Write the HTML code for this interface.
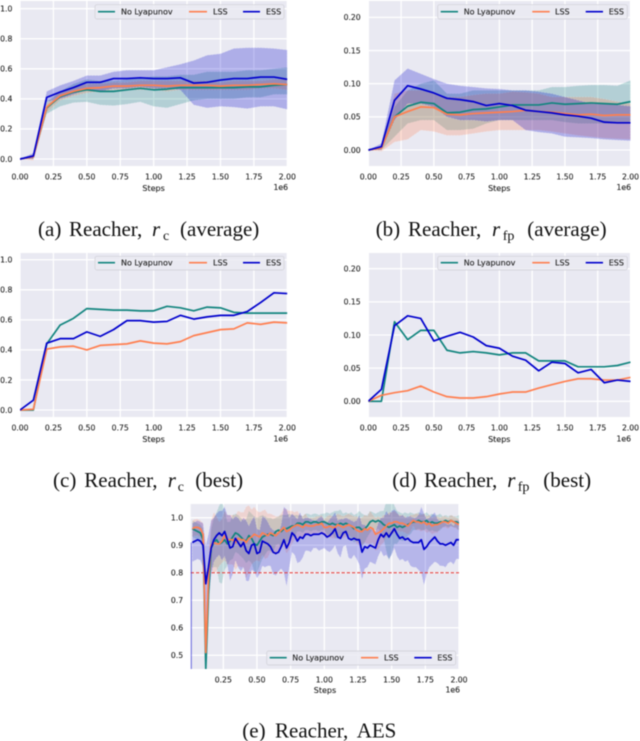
<!DOCTYPE html>
<html>
<head>
<meta charset="utf-8">
<title>Reacher results</title>
<style>
html,body{margin:0;padding:0;background:#fff;width:640px;height:741px;overflow:hidden}
svg{display:block;filter:blur(0.45px)}
.tick{font:7.7px "DejaVu Sans",sans-serif;fill:#222;stroke:#222;stroke-width:.12}
.axl{font:8px "DejaVu Sans",sans-serif;fill:#222;stroke:#222;stroke-width:.12}
.leg{font:8px "DejaVu Sans",sans-serif;fill:#222;stroke:#222;stroke-width:.12}
.cap{font:21px "Liberation Serif",serif;fill:#111}
.capi{font:italic 21px "Liberation Serif",serif;fill:#111}
.sub{font:14px "Liberation Serif",serif;fill:#111}
.lbox{fill:#eaeaf2;fill-opacity:.85;stroke:#cfcfd6;stroke-width:.7}
.teal{stroke:#13857f;stroke-width:1.7;fill:none}
.orange{stroke:#ff7f50;stroke-width:1.7;fill:none}
.blue{stroke:#0000cd;stroke-width:1.7;fill:none}
</style>
</head>
<body>
<svg id="fig" xmlns="http://www.w3.org/2000/svg" width="640" height="741" viewBox="0 0 640 741">
  <rect width="640" height="741" fill="#fff"/>

  <g id="plot-a"></g>
  <g>
    <text class="axl" x="153.6" y="191" text-anchor="middle">Steps</text>
    <text class="tick" x="288" y="190" text-anchor="end">1e6</text>
    <g>
      <rect class="lbox" x="95" y="4.7" width="189" height="14.3" rx="2"/>
      <line class="teal" x1="98" x2="115" y1="11.7" y2="11.7"/>
      <text class="leg" x="121" y="14.5">No Lyapunov</text>
      <line class="orange" x1="189" x2="207" y1="11.7" y2="11.7"/>
      <text class="leg" x="213" y="14.5">LSS</text>
      <line class="blue" x1="243" x2="260" y1="11.7" y2="11.7"/>
      <text class="leg" x="266" y="14.5">ESS</text>
    </g>
    <text y="236"><tspan class="cap" x="38">(a)</tspan><tspan class="cap" x="69">Reacher,</tspan><tspan class="capi" x="152">r</tspan><tspan class="sub" x="163" y="240">c</tspan><tspan class="cap" x="180" y="236">(average)</tspan></text>
  </g>

  <g id="plot-b"></g>
  <g>
    <text class="axl" x="499.3" y="191" text-anchor="middle">Steps</text>
    <text class="tick" x="631" y="190" text-anchor="end">1e6</text>
    <g>
      <rect class="lbox" x="437.7" y="4.7" width="189.6" height="14.3" rx="2"/>
      <line class="teal" x1="440.7" x2="458" y1="11.7" y2="11.7"/>
      <text class="leg" x="463.7" y="14.5">No Lyapunov</text>
      <line class="orange" x1="532.3" x2="549.7" y1="11.7" y2="11.7"/>
      <text class="leg" x="555" y="14.5">LSS</text>
      <line class="blue" x1="585.7" x2="603" y1="11.7" y2="11.7"/>
      <text class="leg" x="608.7" y="14.5">ESS</text>
    </g>
    <text y="236"><tspan class="cap" x="375.7">(b)</tspan><tspan class="cap" x="408">Reacher,</tspan><tspan class="capi" x="492">r</tspan><tspan class="sub" x="502.7" y="240">fp</tspan><tspan class="cap" x="527.3" y="236">(average)</tspan></text>
  </g>

  <g id="plot-c"></g>
  <g>
    <text class="axl" x="153.6" y="442" text-anchor="middle">Steps</text>
    <text class="tick" x="288" y="441.4" text-anchor="end">1e6</text>
    <g>
      <rect class="lbox" x="95" y="256.3" width="189" height="13.7" rx="2"/>
      <line class="teal" x1="98" x2="115" y1="262.7" y2="262.7"/>
      <text class="leg" x="121" y="265.5">No Lyapunov</text>
      <line class="orange" x1="189" x2="207" y1="262.7" y2="262.7"/>
      <text class="leg" x="213" y="265.5">LSS</text>
      <line class="blue" x1="243" x2="260" y1="262.7" y2="262.7"/>
      <text class="leg" x="266" y="265.5">ESS</text>
    </g>
    <text y="487"><tspan class="cap" x="53">(c)</tspan><tspan class="cap" x="84.3">Reacher,</tspan><tspan class="capi" x="167.7">r</tspan><tspan class="sub" x="177.7" y="491">c</tspan><tspan class="cap" x="195.3" y="487">(best)</tspan></text>
  </g>

  <g id="plot-d"></g>
  <g>
    <text class="axl" x="499.3" y="442" text-anchor="middle">Steps</text>
    <text class="tick" x="631" y="441.4" text-anchor="end">1e6</text>
    <g>
      <rect class="lbox" x="437.7" y="256.3" width="189.6" height="13.7" rx="2"/>
      <line class="teal" x1="440.7" x2="458" y1="262.7" y2="262.7"/>
      <text class="leg" x="463.7" y="265.5">No Lyapunov</text>
      <line class="orange" x1="532.3" x2="549.7" y1="262.7" y2="262.7"/>
      <text class="leg" x="555" y="265.5">LSS</text>
      <line class="blue" x1="585.7" x2="603" y1="262.7" y2="262.7"/>
      <text class="leg" x="608.7" y="265.5">ESS</text>
    </g>
    <text y="487"><tspan class="cap" x="392.3">(d)</tspan><tspan class="cap" x="424">Reacher,</tspan><tspan class="capi" x="507.3">r</tspan><tspan class="sub" x="517.7" y="491">fp</tspan><tspan class="cap" x="543.3" y="487">(best)</tspan></text>
  </g>

  <g id="plot-e"></g>
  <g>
    <text class="axl" x="325" y="693" text-anchor="middle">Steps</text>
    <text class="tick" x="460" y="692.7" text-anchor="end">1e6</text>
    <g>
      <rect class="lbox" x="266.7" y="651" width="189" height="14" rx="2"/>
      <line class="teal" x1="269.7" x2="286.7" y1="657.7" y2="657.7"/>
      <text class="leg" x="292.3" y="660.5">No Lyapunov</text>
      <line class="orange" x1="361" x2="378.3" y1="657.7" y2="657.7"/>
      <text class="leg" x="384" y="660.5">LSS</text>
      <line class="blue" x1="414.3" x2="431.7" y1="657.7" y2="657.7"/>
      <text class="leg" x="437.3" y="660.5">ESS</text>
    </g>
    <text y="737.5"><tspan class="cap" x="242.3">(e)</tspan><tspan class="cap" x="275">Reacher,</tspan><tspan class="cap" x="356.7">AES</tspan></text>
  </g>
</svg>

<script>
/* ---------- shared tick labels and categories ---------- */
const stepsCoarse = [0,0.1,0.2,0.3,0.4,0.5,0.6,0.7,0.8,0.9,1.0,1.1,1.2,1.3,1.4,1.5,1.6,1.7,1.8,1.9,2.0];
const xTicksFull = [0,0.25,0.5,0.75,1,1.25,1.5,1.75,2];
const xTickLabelsFull = ["0.00","0.25","0.50","0.75","1.00","1.25","1.50","1.75","2.00"];
const xTicksAes = [0.25,0.5,0.75,1,1.25,1.5,1.75,2];
const xTickLabelsAes = ["0.25","0.50","0.75","1.00","1.25","1.50","1.75","2.00"];
const yTicksRc = [0,0.2,0.4,0.6,0.8,1.0];
const yTickLabelsRc = ["0.0","0.2","0.4","0.6","0.8","1.0"];
const yTicksRfp = [0,0.05,0.10,0.15,0.20];
const yTickLabelsRfp = ["0.00","0.05","0.10","0.15","0.20"];
const yTicksAes = [0.5,0.6,0.7,0.8,0.9,1.0];
const yTickLabelsAes = ["0.5","0.6","0.7","0.8","0.9","1.0"];
const aesThreshold = 0.8;
const aesEssStartValue = 0.45;

/* ---------- panel a ---------- */
const aNoLyapunovMean = [0,.015,.34,.415,.445,.46,.45,.45,.46,.47,.46,.465,.475,.475,.475,.475,.475,.48,.48,.49,.495];
const aNoLyapunovLow = [0,0,.30,.35,.375,.38,.36,.355,.365,.38,.35,.34,.365,.39,.40,.40,.40,.41,.41,.43,.43];
const aNoLyapunovHigh = [0,.03,.38,.45,.50,.53,.52,.52,.53,.54,.55,.55,.56,.56,.58,.58,.58,.59,.59,.60,.61];
const aLssMean = [0,.015,.345,.42,.45,.47,.475,.485,.485,.49,.49,.485,.49,.49,.49,.485,.49,.49,.495,.5,.495];
const aLssLow = [0,-.01,.31,.39,.42,.44,.45,.46,.46,.46,.46,.45,.46,.46,.46,.46,.46,.46,.47,.47,.46];
const aLssHigh = [0,.03,.37,.45,.48,.5,.5,.51,.51,.52,.52,.52,.52,.52,.52,.51,.52,.52,.52,.53,.53];
const aEssMean = [0,.02,.41,.445,.475,.51,.51,.535,.535,.54,.535,.535,.54,.505,.51,.525,.535,.535,.545,.545,.53];
const aEssLow = [0,0,.38,.40,.43,.46,.45,.47,.47,.48,.47,.47,.46,.36,.34,.35,.345,.335,.35,.35,.33];
const aEssHigh = [0,.04,.45,.49,.52,.555,.555,.58,.59,.59,.59,.61,.63,.655,.69,.70,.735,.74,.74,.735,.725];

/* ---------- panel b ---------- */
const bNoLyapunovMean = [0,.003,.05,.066,.072,.07,.056,.057,.061,.062,.065,.068,.068,.068,.071,.069,.07,.071,.07,.069,.073];
const bNoLyapunovLow = [0,0,.02,.04,.045,.045,.03,.03,.032,.04,.045,.045,.045,.045,.045,.042,.04,.04,.04,.04,.04];
const bNoLyapunovHigh = [0,.005,.065,.09,.10,.105,.085,.085,.09,.09,.09,.09,.09,.09,.095,.095,.097,.098,.098,.097,.105];
const bLssMean = [0,.003,.05,.058,.065,.064,.054,.053,.055,.056,.057,.058,.06,.058,.057,.055,.053,.054,.052,.053,.053];
const bLssLow = [0,-.002,.012,.016,.03,.028,.022,.022,.025,.028,.03,.03,.03,.03,.028,.025,.022,.02,.018,.017,.016];
const bLssHigh = [0,.005,.085,.09,.09,.085,.08,.08,.083,.085,.085,.088,.087,.085,.08,.08,.08,.08,.077,.073,.07];
const bEssMean = [0,.005,.075,.097,.092,.086,.078,.076,.073,.067,.07,.067,.06,.058,.056,.053,.051,.048,.042,.041,.041];
const bEssLow = [0,0,.045,.07,.07,.065,.05,.045,.045,.043,.045,.045,.03,.027,.025,.02,.019,.018,.016,.015,.014];
const bEssHigh = [0,.01,.105,.123,.115,.107,.10,.097,.095,.093,.092,.09,.09,.088,.085,.08,.075,.07,.07,.068,.066];

/* ---------- panel c ---------- */
const cNoLyapunovMean = [0,0,.44,.565,.61,.675,.67,.665,.665,.66,.66,.69,.68,.66,.685,.68,.65,.645,.645,.645,.645];
const cLssMean = [0,.005,.405,.42,.425,.40,.43,.435,.44,.46,.445,.44,.455,.495,.515,.535,.54,.58,.57,.585,.58];
const cEssMean = [0,.065,.445,.475,.475,.52,.49,.535,.595,.595,.585,.59,.63,.605,.62,.63,.63,.655,.715,.78,.775];

/* ---------- panel d ---------- */
const dNoLyapunovMean = [0,0,.12,.093,.107,.107,.077,.073,.075,.073,.07,.073,.073,.061,.061,.061,.052,.052,.052,.054,.059];
const dLssMean = [0,.009,.013,.016,.023,.014,.007,.005,.005,.007,.011,.014,.014,.02,.025,.03,.034,.034,.032,.032,.036];
const dEssMean = [0,.018,.114,.129,.125,.091,.098,.104,.097,.084,.08,.068,.062,.046,.059,.057,.043,.048,.028,.032,.03];

/* ---------- panel e (one value per 0.02e6 steps) ---------- */
const eStepSize = 0.02;
const eNoLyapunovMean = [.96,.955,.95,.945,.92,.45,.72,.89,.91,.92,.905,.91,.92,.905,.915,.93,.945,.94,.93,.92,
.915,.935,.925,.905,.90,.915,.93,.935,.94,.94,.935,.95,.955,.95,.96,.96,.965,.97,.97,.98,
.98,.975,.985,.985,.98,.985,.985,.98,.985,.985,.98,.975,.98,.975,.975,.98,.975,.98,.975,.97,
.96,.965,.965,.955,.96,.97,.985,.99,.985,.99,.985,.975,.97,.965,.97,.975,.965,.97,.965,.97,
.975,.98,.985,.985,.99,.985,.985,.99,.98,.985,.98,.98,.985,.985,.99,.985,.99,.985,.985,.98];
const eNoLyapunovSpread = [.03,.03,.03,.03,.04,.05,.06,.07,.09,.10,.14,.15,.11,.08,.07,.08,.07,.07,.07,.07,
.08,.09,.09,.10,.10,.09,.08,.07,.06,.06,.06,.05,.05,.06,.05,.05,.05,.04,.04,.03,
.03,.03,.03,.03,.03,.03,.03,.03,.03,.03,.04,.04,.04,.05,.05,.05,.04,.04,.04,.05,
.05,.05,.06,.06,.05,.04,.04,.03,.03,.03,.04,.05,.09,.12,.10,.07,.06,.05,.05,.05,
.04,.04,.03,.03,.03,.03,.03,.03,.03,.03,.03,.03,.03,.02,.02,.02,.02,.02,.02,.03];
const eLssMean = [.96,.965,.965,.96,.94,.51,.78,.90,.91,.905,.905,.915,.935,.92,.92,.92,.91,.925,.92,.92,
.91,.925,.93,.94,.935,.93,.945,.94,.935,.945,.94,.935,.945,.955,.965,.95,.955,.965,.97,.975,
.97,.965,.975,.97,.97,.97,.975,.975,.98,.965,.965,.97,.965,.965,.975,.97,.965,.97,.975,.97,
.965,.955,.95,.95,.96,.955,.965,.96,.94,.945,.95,.96,.97,.98,.98,.985,.985,.98,.98,.975,
.97,.98,.99,.985,.985,.98,.985,.975,.98,.97,.975,.975,.98,.985,.985,.98,.99,.985,.98,.975];
const eLssSpread = [.03,.03,.03,.03,.04,.06,.07,.09,.11,.10,.08,.08,.09,.09,.09,.09,.10,.10,.10,.10,
.13,.12,.10,.10,.09,.09,.08,.09,.08,.07,.07,.07,.06,.06,.07,.08,.07,.06,.05,.05,
.04,.04,.04,.03,.03,.03,.03,.03,.03,.03,.04,.04,.04,.04,.04,.04,.04,.04,.04,.04,
.04,.05,.05,.05,.05,.05,.06,.05,.06,.06,.05,.05,.04,.04,.04,.04,.03,.03,.03,.03,
.03,.03,.02,.03,.03,.03,.03,.03,.03,.03,.03,.03,.02,.02,.02,.02,.02,.02,.02,.02];
const eEssMean = [.91,.915,.92,.915,.90,.76,.82,.89,.92,.935,.945,.935,.95,.92,.89,.895,.925,.91,.895,.91,
.88,.87,.90,.905,.87,.875,.915,.91,.905,.895,.875,.87,.875,.895,.92,.89,.91,.945,.935,.915,
.93,.925,.94,.94,.935,.94,.94,.94,.945,.94,.93,.935,.945,.96,.93,.925,.945,.95,.925,.92,
.925,.92,.92,.875,.895,.89,.90,.895,.89,.92,.94,.93,.945,.93,.945,.96,.94,.925,.93,.92,
.925,.915,.91,.91,.91,.92,.885,.895,.91,.92,.93,.915,.905,.905,.90,.905,.91,.90,.92,.92];
const eEssSpread = [.07,.07,.07,.07,.08,.14,.12,.10,.08,.08,.08,.09,.09,.09,.12,.10,.08,.09,.09,.09,
.11,.10,.09,.10,.09,.08,.09,.09,.08,.07,.08,.08,.07,.08,.12,.14,.09,.07,.07,.08,
.09,.07,.06,.06,.06,.05,.05,.06,.06,.05,.05,.06,.06,.06,.06,.07,.05,.05,.07,.07,
.06,.07,.09,.10,.08,.07,.06,.06,.06,.06,.06,.07,.08,.08,.08,.07,.08,.08,.08,.08,
.08,.09,.09,.09,.10,.12,.13,.10,.09,.09,.09,.08,.08,.08,.08,.07,.07,.07,.07,.07];

/* ---------- colours ---------- */
const tealColor = "#13857f";
const orangeColor = "#ff7f50";
const blueColor = "#0000cd";
const SVGNS = "http://www.w3.org/2000/svg";

function make(parent, tag, attrs, text) {
  const node = document.createElementNS(SVGNS, tag);
  for (const k in attrs) node.setAttribute(k, attrs[k]);
  if (text !== undefined) node.textContent = text;
  parent.appendChild(node);
  return node;
}
function scaleLinear(d0, d1, r0, r1) {
  return v => r0 + (v - d0) * (r1 - r0) / (d1 - d0);
}
function bandPath(xs, lows, highs, X, Y) {
  let d = "";
  xs.forEach((x, i) => { d += (i ? "L" : "M") + X(x).toFixed(2) + " " + Y(highs[i]).toFixed(2); });
  for (let i = xs.length - 1; i >= 0; i--) d += "L" + X(xs[i]).toFixed(2) + " " + Y(lows[i]).toFixed(2);
  return d + "Z";
}
function linePath(xs, ys, X, Y) {
  return xs.map((x, i) => (i ? "L" : "M") + X(x).toFixed(2) + " " + Y(ys[i]).toFixed(2)).join("");
}

function drawPanel(p) {
  const g = document.getElementById(p.id);
  const X = scaleLinear(p.xDomain[0], p.xDomain[1], p.left, p.right);
  const Y = scaleLinear(p.yDomain[0], p.yDomain[1], p.bottom, p.top);

  const bg = make(g, "rect", {x: p.left, y: p.top, width: p.right - p.left, height: p.bottom - p.top, fill: "#e9e9f2"});
  
  

  const clip = make(g, "clipPath", {id: "clip-" + p.key});
  make(clip, "rect", {x: p.left, y: p.top, width: p.right - p.left, height: p.bottom - p.top});

  p.xTicks.forEach((t, i) => {
    const gl = make(g, "line", {x1: X(t), x2: X(t), y1: p.top, y2: p.bottom, stroke: "#fff", "stroke-width": 1.3});
    
    
    const lb = make(g, "text", {class: "tick", x: X(t), y: p.bottom + p.xLabelOffset, "text-anchor": "middle"}, p.xLabels[i]);
    
    
  });
  p.yTicks.forEach((t, i) => {
    const gl = make(g, "line", {x1: p.left, x2: p.right, y1: Y(t), y2: Y(t), stroke: "#fff", "stroke-width": 1.3});
    
    
    const lb = make(g, "text", {class: "tick", x: p.left - 7.6, y: Y(t) + 2.8, "text-anchor": "end"}, p.yLabels[i]);
    
    
  });

  const marks = make(g, "g", {"clip-path": "url(#clip-" + p.key + ")"});
  
  

  p.series.forEach(s => {
    if (!s.low) return;
    const b = make(marks, "path", {d: bandPath(p.xs, s.low, s.high, X, Y), fill: s.color, "fill-opacity": s.opacity,
      stroke: "#fff", "stroke-opacity": .45, "stroke-width": .5, "stroke-dasharray": "1 2"});
    
    
  });
  if (p.threshold !== undefined) {
    const th = make(marks, "line", {x1: p.left, x2: p.right, y1: Y(p.threshold), y2: Y(p.threshold),
      stroke: "#e2312f", "stroke-width": 1, "stroke-dasharray": "3.4 1.8"});
    
    
  }
  if (p.edgeStart !== undefined) {
    const ed = make(marks, "line", {x1: p.left + .5, x2: p.left + .5, y1: Y(p.edgeStart), y2: Y(p.edgeEnd),
      stroke: blueColor, "stroke-opacity": .55, "stroke-width": 1.2});
    
    
  }
  p.series.forEach(s => {
    const l = make(marks, "path", {d: linePath(p.xs, s.mean, X, Y), fill: "none", stroke: s.color,
      "stroke-width": 1.7, "stroke-linejoin": "round"});
    
    
  });
}

const withSpread = (mean, spread, sign) => mean.map((v, i) => v + sign * spread[i]);
const eSteps = eEssMean.map((_, i) => (i + 1) * eStepSize);
const bandAlpha = .25;

drawPanel({id: "plot-a", key: "a", left: 20, right: 287.3, top: 1, bottom: 166,
  xDomain: [0, 2], yDomain: [-.0466, 1.051], xs: stepsCoarse, xTicks: xTicksFull, xLabels: xTickLabelsFull,
  yTicks: yTicksRc, yLabels: yTickLabelsRc, xLabelOffset: 13.5,
  series: [
    {name: "no-lyapunov", color: tealColor, opacity: bandAlpha, mean: aNoLyapunovMean, low: aNoLyapunovLow, high: aNoLyapunovHigh},
    {name: "lss", color: orangeColor, opacity: bandAlpha, mean: aLssMean, low: aLssLow, high: aLssHigh},
    {name: "ess", color: blueColor, opacity: bandAlpha, mean: aEssMean, low: aEssLow, high: aEssHigh}
  ]
});
drawPanel({id: "plot-b", key: "b", left: 368.3, right: 630.5, top: 1, bottom: 166,
  xDomain: [0, 2], yDomain: [-.0241, .2247], xs: stepsCoarse, xTicks: xTicksFull, xLabels: xTickLabelsFull,
  yTicks: yTicksRfp, yLabels: yTickLabelsRfp, xLabelOffset: 13.5,
  series: [
    {name: "no-lyapunov", color: tealColor, opacity: bandAlpha, mean: bNoLyapunovMean, low: bNoLyapunovLow, high: bNoLyapunovHigh},
    {name: "lss", color: orangeColor, opacity: bandAlpha, mean: bLssMean, low: bLssLow, high: bLssHigh},
    {name: "ess", color: blueColor, opacity: bandAlpha, mean: bEssMean, low: bEssLow, high: bEssHigh}
  ]
});
drawPanel({id: "plot-c", key: "c", left: 20, right: 287.3, top: 253, bottom: 417,
  xDomain: [0, 2], yDomain: [-.0466, 1.045], xs: stepsCoarse, xTicks: xTicksFull, xLabels: xTickLabelsFull,
  yTicks: yTicksRc, yLabels: yTickLabelsRc, xLabelOffset: 13.5,
  series: [
    {name: "no-lyapunov", color: tealColor, mean: cNoLyapunovMean},
    {name: "lss", color: orangeColor, mean: cLssMean},
    {name: "ess", color: blueColor, mean: cEssMean}
  ]
});
drawPanel({id: "plot-d", key: "d", left: 368.3, right: 630.5, top: 253, bottom: 417,
  xDomain: [0, 2], yDomain: [-.0237, .2237], xs: stepsCoarse, xTicks: xTicksFull, xLabels: xTickLabelsFull,
  yTicks: yTicksRfp, yLabels: yTickLabelsRfp, xLabelOffset: 13.5,
  series: [
    {name: "no-lyapunov", color: tealColor, mean: dNoLyapunovMean},
    {name: "lss", color: orangeColor, mean: dLssMean},
    {name: "ess", color: blueColor, mean: dEssMean}
  ]
});
drawPanel({id: "plot-e", key: "e", left: 190.7, right: 459, top: 504, bottom: 669,
  xDomain: [.008, 2], yDomain: [.45, 1.05], xs: eSteps, xTicks: xTicksAes, xLabels: xTickLabelsAes,
  yTicks: yTicksAes, yLabels: yTickLabelsAes, xLabelOffset: 13.7,
  threshold: aesThreshold, edgeStart: aesEssStartValue, edgeEnd: eEssMean[0],
  series: [
    {name: "no-lyapunov", color: tealColor, opacity: .2, mean: eNoLyapunovMean, low: withSpread(eNoLyapunovMean, eNoLyapunovSpread, -1), high: withSpread(eNoLyapunovMean, eNoLyapunovSpread, 1)},
    {name: "lss", color: orangeColor, opacity: .2, mean: eLssMean, low: withSpread(eLssMean, eLssSpread, -1), high: withSpread(eLssMean, eLssSpread, 1)},
    {name: "ess", color: blueColor, opacity: .22, mean: eEssMean, low: withSpread(eEssMean, eEssSpread, -1), high: withSpread(eEssMean, eEssSpread, 1)}
  ]
});
</script>
</body>
</html>
